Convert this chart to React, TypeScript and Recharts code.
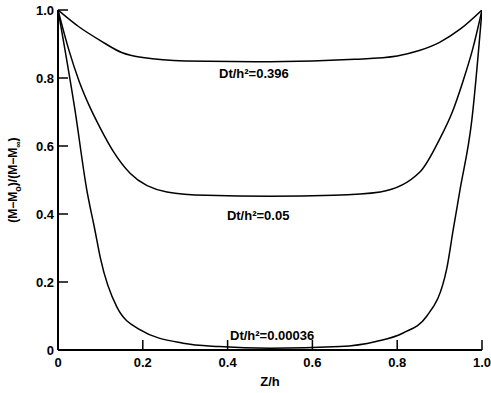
import { LineChart, Line, XAxis, YAxis, ReferenceDot } from 'recharts'

// Z/h positions and normalised moisture ratios
const Z_SLOW = [0, 0.05, 0.1, 0.15, 0.2, 0.3, 0.5, 0.7, 0.8, 0.85, 0.9, 0.95, 1]
const M_SLOW = [1, 0.95, 0.91, 0.875, 0.86, 0.85, 0.848, 0.855, 0.865, 0.88, 0.905, 0.945, 1]

const Z_MID = [0, 0.025, 0.05, 0.075, 0.1, 0.13, 0.17, 0.257, 0.35, 0.5, 0.65, 0.76, 0.854, 0.9, 0.93, 0.955, 0.978, 1]
const M_MID = [1, 0.885, 0.79, 0.715, 0.652, 0.585, 0.52, 0.465, 0.455, 0.452, 0.455, 0.465, 0.524, 0.62, 0.7, 0.79, 0.885, 1]

const Z_FAST = [0, 0.04, 0.068, 0.087, 0.1, 0.139, 0.193, 0.295, 0.38, 0.5, 0.665, 0.75, 0.814, 0.87, 0.917, 0.932, 0.948, 0.976, 1]
const M_FAST = [1, 0.706, 0.47, 0.353, 0.27, 0.126, 0.06, 0.02, 0.01, 0.005, 0.01, 0.025, 0.05, 0.1, 0.24, 0.353, 0.47, 0.676, 1]

const SERIES_LABELS = ['Dt/h²=0.396', 'Dt/h²=0.05', 'Dt/h²=0.00036']
const X_TICKS = [0, 0.2, 0.4, 0.6, 0.8, 1]
const Y_TICKS = [0, 0.2, 0.4, 0.6, 0.8, 1]

const toRows = (zs: number[], ms: number[]) => zs.map((z, i) => ({ z, m: ms[i] }))
const SERIES = [toRows(Z_SLOW, M_SLOW), toRows(Z_MID, M_MID), toRows(Z_FAST, M_FAST)]

// where the curve annotations sit, in data units
const LABEL_AT = [
  { x: 0.462, y: 0.815 },
  { x: 0.472, y: 0.397 },
  { x: 0.505, y: 0.044 },
]

const FONT = "'Liberation Sans', Arial, sans-serif"
const TICK = { fill: '#000', fontSize: 13, fontWeight: 700, fontFamily: FONT }
const fmt = (v: number) => (v === 0 ? '0' : v.toFixed(1))

const YLabel = () => (
  <text
    x={14}
    y={180}
    transform="rotate(-90 14 180)"
    textAnchor="middle"
    dominantBaseline="middle"
    fontFamily={FONT}
    fontWeight={700}
    fontSize={12}
    fill="#000"
  >
    (M−M<tspan baselineShift="sub" fontSize={9}>o</tspan>)/(M−M<tspan baselineShift="sub" fontSize={9}>∞</tspan>)
  </text>
)

export default function App() {
  return (
    <div style={{ position: 'absolute', left: 0, top: 0, background: '#fff' }}>
      <LineChart width={491} height={393} margin={{ top: 10, right: 9, bottom: 0, left: 0 }}>
        <XAxis
          type="number"
          dataKey="z"
          domain={[0, 1]}
          ticks={X_TICKS}
          tickFormatter={fmt}
          tick={TICK}
          tickSize={-10}
          tickMargin={18}
          axisLine={{ stroke: '#000', strokeWidth: 2 }}
          tickLine={{ stroke: '#000', strokeWidth: 1.5 }}
          height={43}
          allowDataOverflow
          label={{
            value: 'Z/h',
            position: 'insideBottom',
            offset: 7,
            fill: '#000',
            fontSize: 13,
            fontWeight: 700,
            fontFamily: FONT,
          }}
        />
        <XAxis xAxisId="top" orientation="top" type="number" domain={[0, 1]} tick={false} tickLine={false} height={0} axisLine={{ stroke: '#000', strokeWidth: 2 }} />
        <YAxis
          type="number"
          domain={[0, 1]}
          ticks={Y_TICKS}
          tickFormatter={fmt}
          tick={TICK}
          tickSize={-10}
          tickMargin={14}
          axisLine={{ stroke: '#000', strokeWidth: 2 }}
          tickLine={{ stroke: '#000', strokeWidth: 1.5 }}
          width={58}
          allowDataOverflow
          label={{ content: () => <YLabel /> }}
        />
        <YAxis yAxisId="right" orientation="right" type="number" domain={[0, 1]} tick={false} tickLine={false} width={0} axisLine={{ stroke: '#000', strokeWidth: 2 }} />
        {SERIES.map((rows, i) => (
          <Line
            key={i}
            data={rows}
            dataKey="m"
            type="monotone"
            stroke="#000"
            strokeWidth={1.5}
            dot={false}
            isAnimationActive={false}
          />
        ))}
        {LABEL_AT.map((p, i) => (
          <ReferenceDot
            key={i}
            x={p.x}
            y={p.y}
            r={0}
            fill="none"
            stroke="none"
            ifOverflow="visible"
            label={{
              value: SERIES_LABELS[i],
              position: 'center',
              fill: '#000',
              fontSize: 13,
              fontWeight: 700,
              fontFamily: FONT,
            }}
          />
        ))}
      </LineChart>
    </div>
  )
}
